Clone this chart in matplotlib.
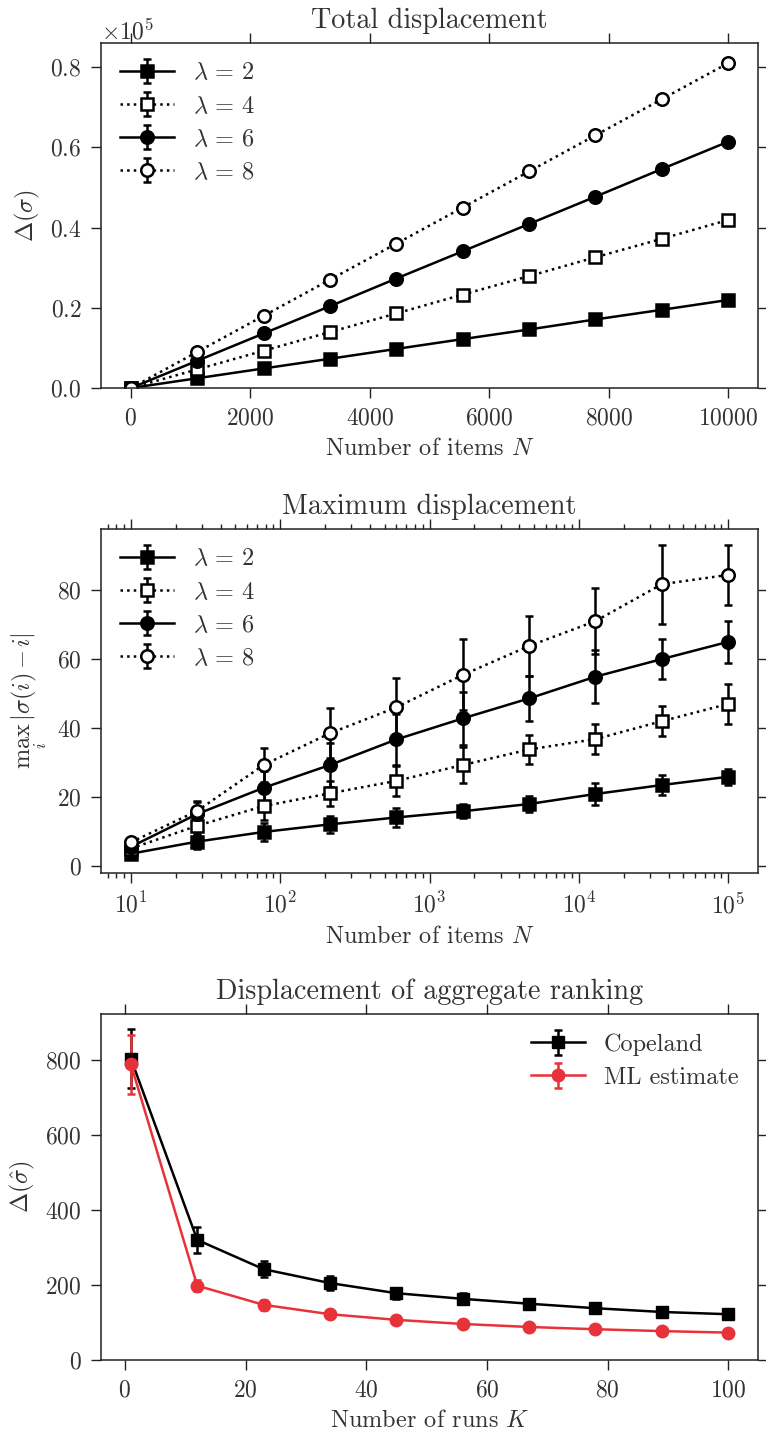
import numpy as np
import matplotlib
matplotlib.use("Agg")
import matplotlib.pyplot as plt

plt.rcParams["font.family"] = ["cmr10", "DejaVu Serif"]
plt.rcParams["mathtext.fontset"] = "cm"
plt.rcParams["axes.formatter.use_mathtext"] = True
plt.rcParams["axes.unicode_minus"] = False
plt.rcParams["text.color"] = "#333333"
plt.rcParams["axes.labelcolor"] = "#333333"
plt.rcParams["xtick.color"] = "#222222"
plt.rcParams["ytick.color"] = "#222222"
plt.rcParams["xtick.labelcolor"] = "#333333"
plt.rcParams["ytick.labelcolor"] = "#333333"

# --- data: total displacement vs N ---
n_lin = [0, 1111, 2222, 3333, 4444, 5556, 6667, 7778, 8889, 10000]
tot = {
    2: [0, 2440, 4880, 7300, 9750, 12200, 14600, 17100, 19500, 21950],
    4: [0, 4650, 9300, 13950, 18600, 23300, 27900, 32600, 37200, 41900],
    6: [0, 6800, 13600, 20400, 27300, 34100, 40900, 47700, 54600, 61400],
    8: [0, 9000, 18000, 27000, 36000, 45000, 54000, 63000, 72000, 81000],
}
tot_err = {
    2: [0, 60, 80, 100, 110, 120, 130, 140, 150, 160],
    4: [0, 90, 120, 140, 160, 180, 190, 200, 210, 220],
    6: [0, 120, 150, 180, 200, 220, 240, 250, 260, 280],
    8: [0, 150, 190, 220, 250, 270, 290, 310, 330, 350],
}

# --- data: maximum displacement vs N (log) ---
n_log = [10, 27.8, 77.4, 215, 599, 1668, 4642, 12915, 35938, 100000]
mx = {
    2: [3.5, 7.0, 9.8, 12.0, 14.0, 15.8, 17.9, 20.8, 23.4, 25.8],
    4: [5.0, 11.6, 17.3, 21.0, 24.6, 29.2, 33.7, 36.7, 41.9, 46.9],
    6: [5.5, 15.0, 22.6, 29.2, 36.6, 42.7, 48.5, 54.8, 59.9, 64.9],
    8: [6.8, 15.9, 29.2, 38.4, 45.9, 55.3, 63.7, 70.9, 81.6, 84.3],
}
mx_err = {
    2: [1.0, 2.0, 2.7, 2.5, 2.7, 2.0, 2.4, 3.2, 3.0, 2.3],
    4: [1.2, 2.5, 4.0, 3.7, 4.3, 5.2, 4.3, 4.3, 4.4, 5.7],
    6: [1.2, 3.5, 5.0, 6.3, 7.4, 7.7, 6.5, 7.6, 5.8, 6.0],
    8: [1.0, 3.0, 5.0, 7.2, 8.6, 10.3, 8.7, 9.5, 11.5, 8.8],
}

# --- data: aggregate ranking vs K ---
runs = [1, 12, 23, 34, 45, 56, 67, 78, 89, 100]
copeland = [803, 320, 242, 205, 178, 163, 150, 138, 128, 122]
copeland_err = [79, 35, 22, 18, 15, 15, 13, 12, 12, 12]
ml = [788, 198, 147, 122, 107, 96, 88, 82, 77, 73]
ml_err = [78, 15, 13, 10, 9, 8, 8, 7, 7, 6]

styles = {
    2: dict(marker="s", ls="-", mfc="black"),
    4: dict(marker="s", ls=":", mfc="white"),
    6: dict(marker="o", ls="-", mfc="black"),
    8: dict(marker="o", ls=":", mfc="white"),
}

TICK = 17
LAB = 17.5
LEG = 17.5
TITLE = 20.3
LW = 1.8

fig = plt.figure(figsize=(7.66, 14.34), dpi=100)
ax1 = fig.add_axes([0.1319, 0.7294, 0.8577, 0.2406])
ax2 = fig.add_axes([0.1319, 0.3912, 0.8577, 0.2399])
ax3 = fig.add_axes([0.1319, 0.0516, 0.8577, 0.2413])


def style_axis(ax):
    ax.tick_params(which="both", direction="out", top=True, right=True,
                   labelsize=TICK, width=1.0, pad=7)
    ax.tick_params(which="major", length=7)
    ax.tick_params(which="minor", length=3.5)
    for s in ax.spines.values():
        s.set_linewidth(1.1)
        s.set_color("#222222")


def draw(ax, x, ys, errs):
    for lam in [2, 4, 6, 8]:
        st = styles[lam]
        ax.errorbar(x, ys[lam], yerr=errs[lam], color="black", lw=LW,
                    ls=st["ls"], marker=st["marker"], mfc=st["mfc"],
                    mec="black", mew=1.8, ms=9, capsize=3.2, capthick=1.8,
                    elinewidth=LW, label=r"$\lambda\,=\,%d$" % lam)
    ax.legend(loc="upper left", frameon=False, fontsize=LEG,
              handlelength=2.2, handletextpad=0.8, labelspacing=0.45,
              borderaxespad=0.4)


draw(ax1, n_lin, tot, tot_err)
ax1.set_xlim(-500, 10500)
ax1.set_ylim(0, 86000)
ax1.set_yticks([0, 20000, 40000, 60000, 80000])
ax1.ticklabel_format(axis="y", style="sci", scilimits=(5, 5))
ax1.yaxis.get_offset_text().set_fontsize(TICK)
ax1.set_title("Total displacement", fontsize=TITLE, pad=11)
ax1.set_xlabel("Number of items $N$", fontsize=LAB, labelpad=6)
ax1.set_ylabel(r"$\Delta(\sigma)$", fontsize=LAB, labelpad=6)
style_axis(ax1)

draw(ax2, n_log, mx, mx_err)
ax2.set_xscale("log")
ax2.set_xlim(10 ** 0.8, 10 ** 5.2)
ax2.set_ylim(-2.1, 97.6)
ax2.set_yticks([0, 20, 40, 60, 80])
ax2.set_title("Maximum displacement", fontsize=TITLE, pad=11)
ax2.set_xlabel("Number of items $N$", fontsize=LAB, labelpad=6)
ax2.set_ylabel(r"$\max_i\,|\sigma(i)\,-\,i|$", fontsize=LAB, labelpad=6)
style_axis(ax2)

ax3.errorbar(runs, copeland, yerr=copeland_err, color="black", lw=LW,
             marker="s", ms=9, capsize=3.2, capthick=1.8, elinewidth=LW,
             label="Copeland")
ax3.errorbar(runs, ml, yerr=ml_err, color="#e8323a", lw=LW,
             marker="o", ms=9, capsize=3.2, capthick=1.8, elinewidth=LW,
             label="ML estimate")
ax3.legend(loc="upper right", frameon=False, fontsize=LEG,
           handlelength=2.2, handletextpad=0.8, labelspacing=0.45,
           borderaxespad=0.4)
ax3.set_xlim(-3.95, 104.95)
ax3.set_ylim(0, 922)
ax3.set_xticks([0, 20, 40, 60, 80, 100])
ax3.set_yticks([0, 200, 400, 600, 800])
ax3.set_title("Displacement of aggregate ranking", fontsize=TITLE, pad=11)
ax3.set_xlabel("Number of runs $K$", fontsize=LAB, labelpad=6)
ax3.set_ylabel(r"$\Delta(\hat{\sigma})$", fontsize=LAB, labelpad=6)
style_axis(ax3)

fig.savefig("out.png", dpi=100)
